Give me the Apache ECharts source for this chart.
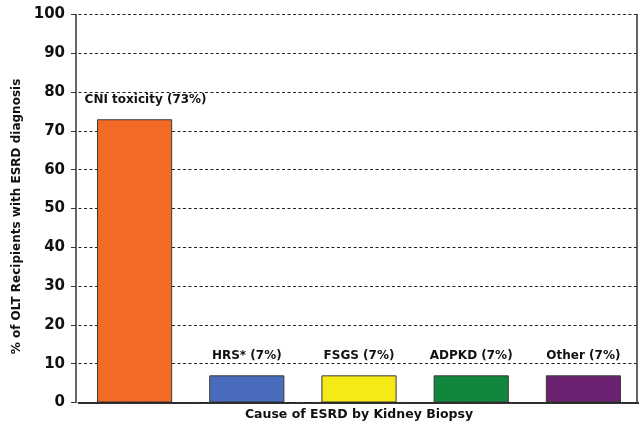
<!DOCTYPE html>
<html>
<head>
<meta charset="utf-8">
<script src="https://cdn.jsdelivr.net/npm/echarts@6/dist/echarts.min.js"></script>
<style>
  html, body { margin: 0; padding: 0; background: #fff; }
  #chart { width: 639px; height: 423px; }
</style>
</head>
<body>
<div id="chart"></div>
<script>
// Causes of ESRD found on kidney biopsy
const causes = ['CNI toxicity', 'HRS*', 'FSGS', 'ADPKD', 'Other'];
const percents = [73, 7, 7, 7, 7];
const barColors = ['#f26a24', '#4a6cbc', '#f6ea16', '#10873d', '#6b2371'];
const yTicks = [0, 10, 20, 30, 40, 50, 60, 70, 80, 90, 100];

const font = '"DejaVu Sans", "Liberation Sans", Arial, sans-serif';

const chart = echarts.init(document.getElementById('chart'));
chart.setOption({
  animation: false,
  backgroundColor: '#ffffff',
  grid: {
    left: 78.5, right: -0.5, top: 14.5, bottom: 20.5,
    containLabel: false,
    outerBoundsMode: 'none'
  },
  xAxis: [
    {
      type: 'category',
      data: causes,
      position: 'bottom',
      axisLine: { show: true, lineStyle: { color: '#333', width: 1.5 } },
      axisTick: { show: false },
      axisLabel: { show: false },
      name: 'Cause of ESRD by Kidney Biopsy',
      nameLocation: 'middle',
      nameGap: 6,
      nameTextStyle: { fontFamily: font, fontWeight: 'bold', fontSize: 12.5, color: '#111' }
    },
    {
      type: 'category',
      data: causes,
      position: 'top',
      z: 10,
      axisLine: { show: true, lineStyle: { color: '#222', width: 1.5 } },
      axisTick: { show: false },
      axisLabel: { show: false }
    }
  ],
  yAxis: [
    {
      type: 'value',
      min: 0,
      max: 100,
      interval: 10,
      offset: 2.5,
      axisLine: { show: true, lineStyle: { color: '#333', width: 1.5 } },
      axisTick: { show: true, length: 5, inside: false, lineStyle: { color: '#333', width: 1 } },
      axisLabel: {
        margin: 11,
        fontFamily: font,
        fontWeight: 'bold',
        fontSize: 15,
        color: '#111',
        formatter: v => (yTicks.includes(v) ? String(v) : '')
      },
      splitLine: {
        show: true,
        lineStyle: { color: '#222', type: [3, 2.5], width: 1 }
      },
      name: '% of OLT Recipients with ESRD diagnosis',
      nameLocation: 'middle',
      nameGap: 52,
      nameRotate: 90,
      nameTextStyle: { fontFamily: font, fontWeight: 'bold', fontSize: 12, color: '#111', padding: [0, 16, 0, 0] }
    },
    {
      type: 'value',
      min: 0,
      max: 100,
      interval: 10,
      position: 'right',
      offset: -2.5,
      z: 10,
      axisLine: { show: true, lineStyle: { color: '#333', width: 1.5 } },
      axisTick: { show: false },
      axisLabel: { show: false },
      splitLine: { show: false }
    }
  ],
  series: [
    {
      type: 'bar',
      data: percents.map((v, i) => ({
        value: v,
        itemStyle: { color: barColors[i] },
        // the long first label sits a little right of its bar
        label: i === 0 ? { offset: [11, 0] } : {}
      })),
      barWidth: '67%',
      itemStyle: { borderColor: '#3a3a3a', borderWidth: 1 },
      label: {
        show: true,
        position: 'top',
        distance: 13,
        fontFamily: font,
        fontWeight: 'bold',
        fontSize: 12,
        color: '#111',
        formatter: p => `${causes[p.dataIndex]} (${p.value}%)`
      }
    }
  ]
});
</script>
</body>
</html>
